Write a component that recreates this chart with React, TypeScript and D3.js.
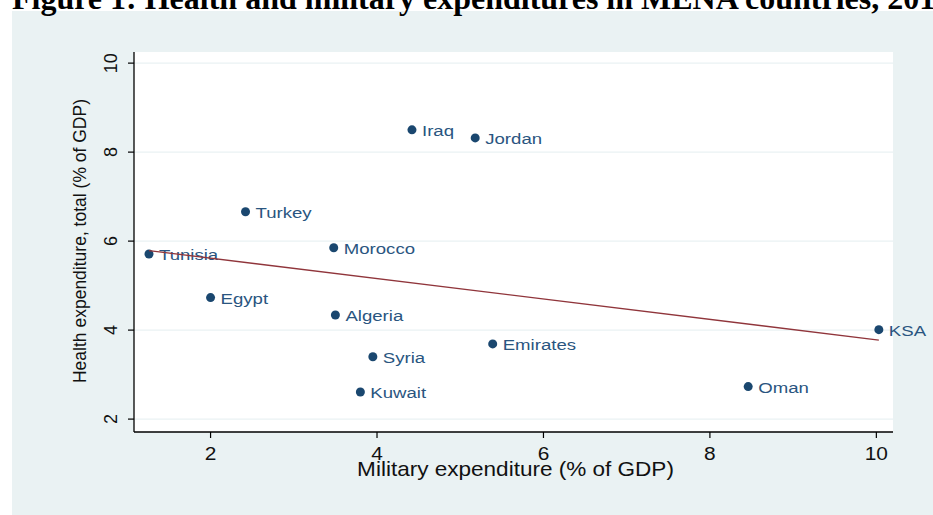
import React, { useEffect, useRef } from "react";
import * as d3 from "d3";

const countries = ["Iraq", "Jordan", "Turkey", "Morocco", "Tunisia", "Egypt", "Algeria", "Syria", "Kuwait", "Emirates", "KSA", "Oman"];
const military = [4.42, 5.18, 2.42, 3.48, 1.26, 2.0, 3.5, 3.95, 3.8, 5.39, 10.03, 8.46];
const health = [8.5, 8.32, 6.66, 5.85, 5.71, 4.73, 4.34, 3.4, 2.61, 3.69, 4.01, 2.73];
const xTicks = [2, 4, 6, 8, 10];
const yTicks = [2, 4, 6, 8, 10];

const title = "Figure 1: Health and military expenditures in MENA countries, 201";
const xTitle = "Military expenditure (% of GDP)";
const yTitle = "Health expenditure, total (% of GDP)";

const navy = "#1a476f";
const maroon = "#90353b";
const bg = "#eaf2f3";
const sans = "'Liberation Sans', Arial, sans-serif";

export default function App() {
  const svgRef = useRef<SVGSVGElement>(null);

  useEffect(() => {
    const width = 933;
    const height = 515;
    const plot = { left: 134, right: 893, top: 52, bottom: 432 };

    const svg = d3.select(svgRef.current).attr("width", width).attr("height", height);
    svg.selectAll("*").remove();

    // outer graph region
    svg.append("rect")
      .attr("x", 12).attr("y", 11)
      .attr("width", width - 12).attr("height", height - 11)
      .attr("fill", bg);

    svg.append("text")
      .attr("x", 12).attr("y", 9)
      .attr("font-family", "'Liberation Serif', 'Times New Roman', serif")
      .attr("font-weight", "bold")
      .attr("font-size", 32)
      .attr("fill", "#000")
      .text(title);

    svg.append("rect")
      .attr("x", plot.left).attr("y", plot.top)
      .attr("width", plot.right - plot.left).attr("height", plot.bottom - plot.top)
      .attr("fill", "#fff");

    const x = d3.scaleLinear().domain([1.08, 10.2]).range([plot.left, plot.right]);
    const y = d3.scaleLinear().domain([1.71, 10.25]).range([plot.bottom, plot.top]);

    // gridlines
    svg.append("g")
      .selectAll("line")
      .data(yTicks)
      .enter().append("line")
      .attr("x1", plot.left).attr("x2", plot.right)
      .attr("y1", d => y(d)).attr("y2", d => y(d))
      .attr("stroke", bg)
      .attr("stroke-width", 1.2);

    // x axis
    const gx = svg.append("g");
    gx.append("line")
      .attr("x1", plot.left).attr("x2", plot.right)
      .attr("y1", plot.bottom).attr("y2", plot.bottom)
      .attr("stroke", "#000").attr("stroke-width", 1.3);
    gx.selectAll("line.tick")
      .data(xTicks)
      .enter().append("line")
      .attr("class", "tick")
      .attr("x1", d => x(d)).attr("x2", d => x(d))
      .attr("y1", plot.bottom).attr("y2", plot.bottom + 6)
      .attr("stroke", "#000").attr("stroke-width", 1.2);
    gx.selectAll("text.tl")
      .data(xTicks)
      .enter().append("text")
      .attr("class", "tl")
      .attr("transform", d => `translate(${x(d)},${plot.bottom + 28}) scale(1.1,1)`)
      .attr("text-anchor", "middle")
      .attr("font-family", sans)
      .attr("font-size", 19)
      .attr("fill", "#111")
      .text(d => d);
    gx.append("text")
      .attr("transform", `translate(${(plot.left + plot.right) / 2 + 2},${plot.bottom + 44}) scale(1.1,1)`)
      .attr("text-anchor", "middle")
      .attr("font-family", sans)
      .attr("font-size", 20.5)
      .attr("fill", "#111")
      .text(xTitle);

    // y axis
    const gy = svg.append("g");
    gy.append("line")
      .attr("x1", plot.left).attr("x2", plot.left)
      .attr("y1", plot.top).attr("y2", plot.bottom)
      .attr("stroke", "#000").attr("stroke-width", 1.3);
    gy.selectAll("line.tick")
      .data(yTicks)
      .enter().append("line")
      .attr("class", "tick")
      .attr("x1", plot.left - 6).attr("x2", plot.left)
      .attr("y1", d => y(d)).attr("y2", d => y(d))
      .attr("stroke", "#000").attr("stroke-width", 1.2);
    gy.selectAll("text.tl")
      .data(yTicks)
      .enter().append("text")
      .attr("class", "tl")
      .attr("transform", d => `translate(${plot.left - 17},${y(d)}) rotate(-90)`)
      .attr("text-anchor", "middle")
      .attr("font-family", sans)
      .attr("font-size", 18)
      .attr("fill", "#111")
      .text(d => d);
    gy.append("text")
      .attr("transform", `translate(86,${(plot.top + plot.bottom) / 2 - 1}) rotate(-90)`)
      .attr("text-anchor", "middle")
      .attr("font-family", sans)
      .attr("font-size", 17.5)
      .attr("fill", "#111")
      .text(yTitle);

    // linear fit
    const mx = d3.mean(military) as number;
    const my = d3.mean(health) as number;
    const sxy = d3.sum(military, (v, i) => (v - mx) * (health[i] - my));
    const sxx = d3.sum(military, v => (v - mx) * (v - mx));
    const slope = sxy / sxx;
    const intercept = my - slope * mx;
    const [x0, x1] = d3.extent(military) as [number, number];

    // points and labels
    const pts = countries.map((c, i) => ({ name: c, mx: military[i], hy: health[i] }));
    const gp = svg.append("g");
    gp.selectAll("circle")
      .data(pts)
      .enter().append("circle")
      .attr("cx", d => x(d.mx))
      .attr("cy", d => y(d.hy))
      .attr("r", 4.5)
      .attr("fill", navy);
    gp.selectAll("text")
      .data(pts)
      .enter().append("text")
      .attr("transform", d => `translate(${x(d.mx) + 10},${y(d.hy) + 6}) scale(1.2,1)`)
      .attr("font-family", sans)
      .attr("font-size", 15.5)
      .attr("fill", "#2a5580")
      .text(d => d.name);

    svg.append("line")
      .attr("x1", x(x0)).attr("y1", y(intercept + slope * x0))
      .attr("x2", x(x1)).attr("y2", y(intercept + slope * x1))
      .attr("stroke", maroon)
      .attr("stroke-width", 1.3);
  }, []);

  return (
    <>
      <style>{"body{margin:0}"}</style>
      <svg ref={svgRef} style={{ display: "block" }}></svg>
    </>
  );
}
